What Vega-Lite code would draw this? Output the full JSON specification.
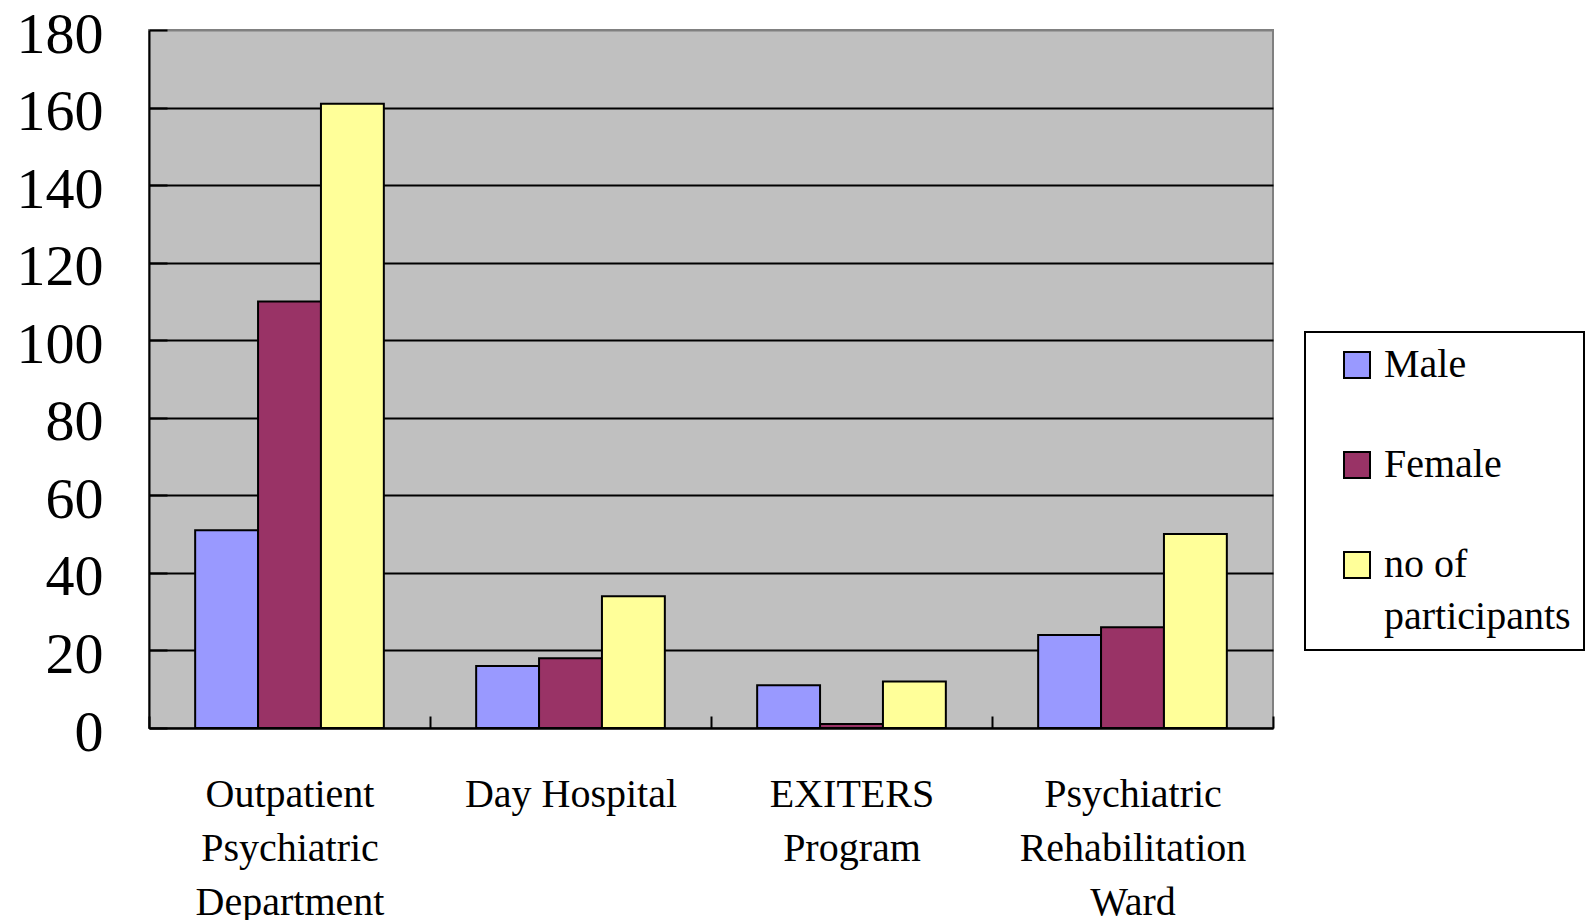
{
  "$schema": "https://vega.github.io/schema/vega-lite/v6.json",
  "width": 1124,
  "height": 698,
  "autosize": {"type": "none"},
  "padding": {"left": 149, "top": 30, "right": 314, "bottom": 192},
  "background": "white",
  "config": {
    "view": {"fill": "#C0C0C0", "stroke": "#808080", "strokeWidth": 2},
    "font": "Liberation Serif"
  },
  "data": {
    "values": [
      {"unit": "Outpatient Psychiatric Department", "series": "Male", "count": 51},
      {"unit": "Outpatient Psychiatric Department", "series": "Female", "count": 110},
      {"unit": "Outpatient Psychiatric Department", "series": "no of participants", "count": 161},
      {"unit": "Day Hospital", "series": "Male", "count": 16},
      {"unit": "Day Hospital", "series": "Female", "count": 18},
      {"unit": "Day Hospital", "series": "no of participants", "count": 34},
      {"unit": "EXITERS Program", "series": "Male", "count": 11},
      {"unit": "EXITERS Program", "series": "Female", "count": 1},
      {"unit": "EXITERS Program", "series": "no of participants", "count": 12},
      {"unit": "Psychiatric Rehabilitation Ward", "series": "Male", "count": 24},
      {"unit": "Psychiatric Rehabilitation Ward", "series": "Female", "count": 26},
      {"unit": "Psychiatric Rehabilitation Ward", "series": "no of participants", "count": 50}
    ]
  },
  "mark": {"type": "bar", "stroke": "black", "strokeWidth": 2, "opacity": 1},
  "encoding": {
    "x": {
      "field": "unit",
      "type": "nominal",
      "sort": ["Outpatient Psychiatric Department", "Day Hospital", "EXITERS Program", "Psychiatric Rehabilitation Ward"],
      "scale": {"paddingInner": 0, "paddingOuter": 0},
      "axis": {
        "title": null,
        "labelAngle": 0,
        "domainColor": "black",
        "domainWidth": 2,
        "tickColor": "black",
        "tickWidth": 2,
        "tickSize": -12,
        "tickBand": "extent",
        "labelFont": "Liberation Serif",
        "labelFontSize": 40,
        "labelColor": "black",
        "labelPadding": 58,
        "labelLineHeight": 54,
        "labelBaseline": "top",
        "labelLimit": 0,
        "labelExpr": "datum.label == 'Outpatient Psychiatric Department' ? ['Outpatient', 'Psychiatric', 'Department'] : datum.label == 'EXITERS Program' ? ['EXITERS', 'Program'] : datum.label == 'Psychiatric Rehabilitation Ward' ? ['Psychiatric', 'Rehabilitation', 'Ward'] : datum.label"
      }
    },
    "xOffset": {
      "field": "series",
      "type": "nominal",
      "sort": ["Male", "Female", "no of participants"],
      "scale": {"paddingInner": 0, "paddingOuter": 0.734}
    },
    "y": {
      "field": "count",
      "type": "quantitative",
      "scale": {"domain": [0, 180], "nice": false},
      "axis": {
        "title": null,
        "values": [0, 20, 40, 60, 80, 100, 120, 140, 160, 180],
        "grid": true,
        "gridColor": {"condition": {"test": "datum.value >= 180", "value": "#808080"}, "value": "black"},
        "gridWidth": 2,
        "gridOpacity": 1,
        "domainColor": "black",
        "domainWidth": 2,
        "tickColor": "black",
        "tickWidth": 2,
        "tickSize": -18,
        "labelFont": "Liberation Serif",
        "labelFontSize": 58,
        "labelColor": "black",
        "labelPadding": 64,
        "labelOffset": 5
      }
    },
    "color": {
      "field": "series",
      "type": "nominal",
      "sort": ["Male", "Female", "no of participants"],
      "scale": {"domain": ["Male", "Female", "no of participants"], "range": ["#9999FF", "#993366", "#FFFF99"]},
      "legend": {
        "title": null,
        "orient": "none",
        "legendX": 1156,
        "legendY": 302,
        "direction": "vertical",
        "strokeColor": "black",
        "fillColor": "white",
        "padding": 13,
        "symbolType": "square",
        "symbolSize": 676,
        "symbolStrokeColor": "black",
        "symbolStrokeWidth": 2,
        "symbolOpacity": 1,
        "symbolOffset": 19,
        "labelFont": "Liberation Serif",
        "labelFontSize": 40,
        "labelColor": "black",
        "labelOffset": 7,
        "labelLimit": 0,
        "rowPadding": 60,
        "labelExpr": "datum.label == 'no of participants' ? ['no of', 'participants'] : datum.label",
        "encode": {
          "labels": {"update": {"lineHeight": {"value": 52}}},
          "legend": {"update": {"strokeWidth": {"value": 2}}}
        }
      }
    }
  }
}
